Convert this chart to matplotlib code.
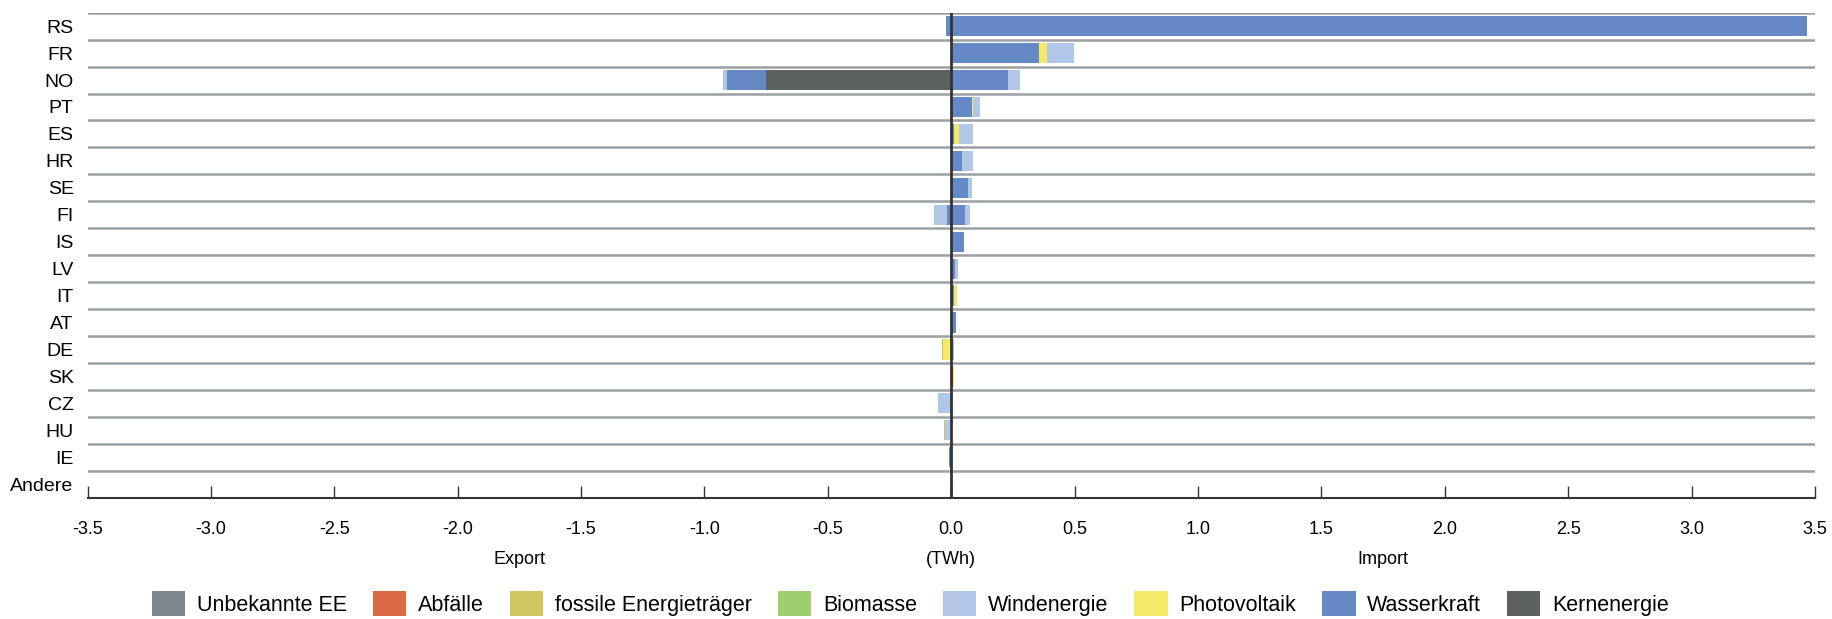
import matplotlib.pyplot as plt
from matplotlib.patches import Patch
from matplotlib.transforms import blended_transform_factory

plt.rcParams['font.family'] = ['Liberation Sans', 'DejaVu Sans']

countries = ["RS", "FR", "NO", "PT", "ES", "HR", "SE", "FI", "IS",
             "LV", "IT", "AT", "DE", "SK", "CZ", "HU", "IE", "Andere"]

# legend order
sources = ["Unbekannte EE", "Abfälle", "fossile Energieträger", "Biomasse",
           "Windenergie", "Photovoltaik", "Wasserkraft", "Kernenergie"]
colors = ["#7f868c", "#d96a43", "#cfc660", "#9dcf6e",
          "#b0c7e8", "#f5e96a", "#6589c5", "#5c6060"]

# import (TWh, positive side)
imp_wasser = [3.467, 0.354, 0.228, 0.082, 0.012, 0.045, 0.069, 0.057, 0.053,
              0.016, 0.012, 0.020, 0.008, 0.008, 0, 0, 0, 0]
imp_pv = [0, 0.032, 0, 0.007, 0.020, 0, 0, 0, 0,
          0, 0.012, 0, 0, 0.003, 0, 0, 0, 0]
imp_wind = [0, 0.113, 0.049, 0.026, 0.057, 0.045, 0.016, 0.020, 0,
            0.012, 0, 0, 0.004, 0, 0, 0, 0, 0]

# export (TWh, negative side)
exp_kern = [0, 0, -0.750, 0, 0, 0, 0, 0, 0,
            0, 0, 0, 0, 0, 0, 0, 0, 0]
exp_wasser = [-0.023, 0, -0.157, 0, 0, 0, 0, -0.016, 0,
              0, 0, 0, 0, 0, 0, 0, -0.011, 0]
exp_pv = [0, 0, 0, 0, 0, 0, 0, 0, 0,
          0, 0, 0, -0.035, 0, 0, 0, 0, 0]
exp_wind = [0, 0, -0.020, 0, 0, 0, 0, -0.053, 0,
            0, 0, 0, 0, 0, -0.053, -0.027, 0, 0]
exp_fossil = [0, 0, 0, 0, 0, 0, 0, 0, 0,
              0, 0, 0, -0.002, 0, 0, -0.002, 0, 0]

col = dict(zip(sources, colors))
# stacking order outward from zero
imp_stack = [("Kernenergie", [0] * len(countries)), ("Wasserkraft", imp_wasser),
             ("Photovoltaik", imp_pv), ("Windenergie", imp_wind)]
exp_stack = [("Kernenergie", exp_kern), ("Wasserkraft", exp_wasser),
             ("Photovoltaik", exp_pv), ("Windenergie", exp_wind),
             ("fossile Energieträger", exp_fossil)]

fig = plt.figure(figsize=(18.32, 6.19), dpi=100)
ax = fig.add_axes([0.0478, 0.196, 0.9429, 0.7835])

y = list(range(len(countries)))
h = 0.75
for stack in (imp_stack, exp_stack):
    base = [0.0] * len(countries)
    for name, vals in stack:
        ax.barh(y, vals, left=base, height=h, color=col[name], lw=0, zorder=2)
        base = [b + v for b, v in zip(base, vals)]

for k in range(len(countries)):
    ax.axhline(k - 0.5, color="#9ca0a4", lw=1.8, zorder=1)
ax.axvline(0, color="#333333", lw=2, zorder=3)

ax.set_xlim(-3.5, 3.5)
ax.set_ylim(len(countries) - 0.5, -0.5)
ax.set_yticks(y)
ax.set_yticklabels(countries, fontsize=14)
ax.tick_params(axis="y", length=0, pad=10)
ax.set_xticks([i * 0.5 - 3.5 for i in range(15)])
ax.set_xticklabels([f"{i * 0.5 - 3.5:.1f}" for i in range(15)], fontsize=13)
ax.tick_params(axis="x", direction="in", length=9, width=1, color="#333333", pad=17)
for s in ("top", "right", "left"):
    ax.spines[s].set_visible(False)
ax.spines["bottom"].set_color("#333333")
ax.spines["bottom"].set_linewidth(1.5)

tr = blended_transform_factory(ax.transData, ax.transAxes)
for xv, t in [(-1.75, "Export"), (0, "(TWh)"), (1.75, "Import")]:
    ax.text(xv, -0.128, t, transform=tr, ha="center", va="center", fontsize=13)

handles = [Patch(facecolor=c, edgecolor="none", label=s) for s, c in zip(sources, colors)]
fig.legend(handles=handles, loc="center", bbox_to_anchor=(0.497, 0.025), ncol=8,
           frameon=False, fontsize=15.5, handlelength=1.55, handleheight=1.45,
           handletextpad=0.55, columnspacing=1.2)

fig.savefig("out.png", dpi=100)
